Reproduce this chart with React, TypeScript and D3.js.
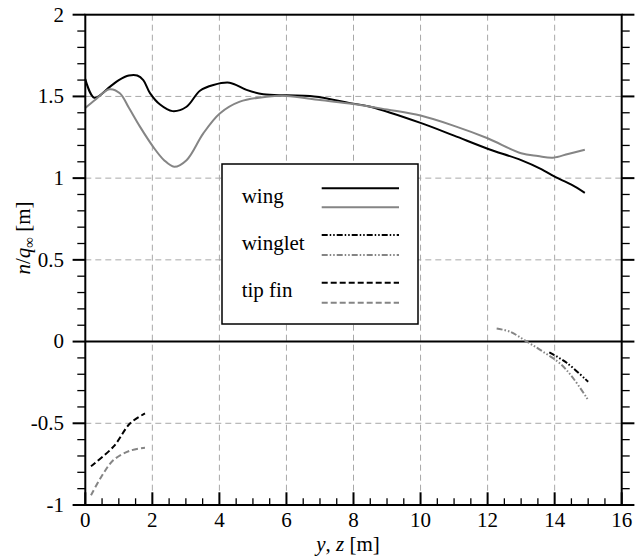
import React from "react";
import * as d3 from "d3";

// ---- data ----
const wingBlackX = [0, 0.27, 0.74, 1.0, 1.3, 1.55, 1.73, 1.93, 2.23, 2.6, 3.02, 3.42, 3.82, 4.3, 4.81, 5.31, 6.0, 6.7, 7.0, 8.0, 8.5, 10.0, 11.0, 12.0, 13.0, 13.6, 14.0, 14.5, 14.9];
const wingBlackY = [1.607, 1.492, 1.56, 1.6, 1.628, 1.628, 1.6, 1.52, 1.45, 1.41, 1.437, 1.535, 1.57, 1.584, 1.54, 1.513, 1.507, 1.503, 1.495, 1.456, 1.437, 1.338, 1.26, 1.18, 1.11, 1.055, 1.009, 0.96, 0.91];
const wingGrayX = [0, 0.3, 0.72, 1.03, 1.3, 1.63, 2.03, 2.35, 2.65, 3.02, 3.52, 4.02, 4.61, 5.41, 6.0, 7.0, 8.0, 9.0, 10.0, 11.0, 12.0, 13.0, 13.5, 13.95, 14.4, 14.9];
const wingGrayY = [1.43, 1.48, 1.544, 1.52, 1.43, 1.315, 1.19, 1.11, 1.07, 1.11, 1.274, 1.397, 1.468, 1.498, 1.503, 1.478, 1.454, 1.42, 1.383, 1.32, 1.244, 1.152, 1.135, 1.125, 1.148, 1.174];
const wingletBlackX = [13.84, 14.36, 15.0];
const wingletBlackY = [-0.066, -0.13, -0.246];
const wingletGrayX = [12.27, 12.67, 13.17, 13.66, 14.16, 14.56, 15.0];
const wingletGrayY = [0.08, 0.06, 0.0, -0.063, -0.134, -0.226, -0.358];
const tipBlackX = [0.17, 0.84, 1.34, 1.78];
const tipBlackY = [-0.763, -0.643, -0.5, -0.44];
const tipGrayX = [0.17, 0.5, 0.84, 1.33, 1.78];
const tipGrayY = [-0.94, -0.82, -0.725, -0.668, -0.65];

const xTicks = [0, 2, 4, 6, 8, 10, 12, 14, 16];
const yTicks = [-1, -0.5, 0, 0.5, 1, 1.5, 2];
const yTickLabels = ["-1", "-0.5", "0", "0.5", "1", "1.5", "2"];
const legendLabels = ["wing", "winglet", "tip fin"];

const W = 635, H = 559;
const L = 85.3, R = 621.7, T = 14.7, B = 505;
const FONT = "'Liberation Serif', 'Times New Roman', Times, 'DejaVu Serif', serif";
const BLACK = "#000";
const GRAY = "#858585";
const WINGLET_DASH = "6,2,1.5,2,1.5,2";
const TIP_DASH = "6,3";

export default function App() {
  const x = d3.scaleLinear().domain([0, 16]).range([L, R]);
  const y = d3.scaleLinear().domain([-1, 2]).range([B, T]);
  const line = d3
    .line<[number, number]>()
    .x((d) => x(d[0]))
    .y((d) => y(d[1]))
    .curve(d3.curveCatmullRom.alpha(0.5));
  const pts = (xs: number[], ys: number[]) => xs.map((v, i) => [v, ys[i]] as [number, number]);

  const xMinor = d3.range(0, 16.01, 0.5).filter((v) => Math.abs(v % 2) > 1e-6);
  const yMinor = d3.range(-1, 2.001, 0.1).filter((v) => Math.abs(Math.round(v * 10) % 5) !== 0);

  const series = [
    { d: pts(wingBlackX, wingBlackY), c: BLACK, dash: undefined },
    { d: pts(wingGrayX, wingGrayY), c: GRAY, dash: undefined },
    { d: pts(wingletBlackX, wingletBlackY), c: BLACK, dash: WINGLET_DASH },
    { d: pts(wingletGrayX, wingletGrayY), c: GRAY, dash: WINGLET_DASH },
    { d: pts(tipBlackX, tipBlackY), c: BLACK, dash: TIP_DASH },
    { d: pts(tipGrayX, tipGrayY), c: GRAY, dash: TIP_DASH },
  ];

  const legX = 222, legY = 164, legW = 196, legH = 160;
  const legRows = [
    { label: legendLabels[0], base: 202.7, l1: 188.3, l2: 207.3, dash: undefined },
    { label: legendLabels[1], base: 250, l1: 235, l2: 255, dash: WINGLET_DASH },
    { label: legendLabels[2], base: 297.3, l1: 282.7, l2: 302.7, dash: TIP_DASH },
  ];

  return (
    <svg width={W} height={H} style={{ position: "absolute", left: 0, top: 0, background: "#fff", fontFamily: FONT }}>
      <rect x={0} y={0} width={W} height={H} fill="#fff" />
      {/* grid */}
      {xTicks.filter((v) => v > 0 && v < 16).map((v) => (
        <line key={"gx" + v} x1={x(v)} x2={x(v)} y1={T} y2={B} stroke="#a8a8a8" strokeWidth={1} strokeDasharray="6,4" />
      ))}
      {yTicks.filter((v) => v !== 0 && v > -1 && v < 2).map((v) => (
        <line key={"gy" + v} x1={L} x2={R} y1={y(v)} y2={y(v)} stroke="#a8a8a8" strokeWidth={1} strokeDasharray="6,4" />
      ))}
      {/* zero line */}
      <line x1={L} x2={R} y1={y(0)} y2={y(0)} stroke="#000" strokeWidth={2} />
      {/* series */}
      {series.map((s, i) => (
        <path key={i} d={line(s.d) || ""} fill="none" stroke={s.c} strokeWidth={2} strokeDasharray={s.dash} />
      ))}
      {/* frame */}
      <rect x={L} y={T} width={R - L} height={B - T} fill="none" stroke="#000" strokeWidth={2} />
      {/* y ticks */}
      {yTicks.map((v) => (
        <g key={"yt" + v}>
          <line x1={L - 12.7} x2={L} y1={y(v)} y2={y(v)} stroke="#000" strokeWidth={2} />
          <line x1={R} x2={R + 12.7} y1={y(v)} y2={y(v)} stroke="#000" strokeWidth={2} />
        </g>
      ))}
      {yMinor.map((v) => (
        <g key={"ym" + v}>
          <line x1={L - 8} x2={L} y1={y(v)} y2={y(v)} stroke="#000" strokeWidth={1.3} />
          <line x1={R} x2={R + 8} y1={y(v)} y2={y(v)} stroke="#000" strokeWidth={1.3} />
        </g>
      ))}
      {/* x ticks */}
      {xTicks.map((v) => (
        <line key={"xt" + v} x1={x(v)} x2={x(v)} y1={B} y2={B - 12.7} stroke="#000" strokeWidth={2} />
      ))}
      {xMinor.map((v) => (
        <line key={"xm" + v} x1={x(v)} x2={x(v)} y1={B} y2={B - 6.7} stroke="#000" strokeWidth={1.3} />
      ))}
      {/* tick labels */}
      {yTicks.map((v, i) => (
        <text key={"yl" + v} x={64} y={y(v)} dy="0.33em" textAnchor="end" fontSize={21} fontFamily={FONT}>
          {yTickLabels[i]}
        </text>
      ))}
      {xTicks.map((v) => (
        <text key={"xl" + v} x={x(v)} y={527} textAnchor="middle" fontSize={21} fontFamily={FONT}>
          {String(v)}
        </text>
      ))}
      {/* axis labels */}
      <text x={348} y={551} textAnchor="middle" fontSize={21} fontFamily={FONT}>
        <tspan fontStyle="italic">y</tspan>
        <tspan>, </tspan>
        <tspan fontStyle="italic">z</tspan>
        <tspan> [m]</tspan>
      </text>
      <text transform="translate(30,238) rotate(-90)" textAnchor="middle" fontSize={21} fontFamily={FONT}>
        <tspan fontStyle="italic">n</tspan>
        <tspan>/</tspan>
        <tspan fontStyle="italic">q</tspan>
        <tspan fontSize={15} dy={4}>∞</tspan>
        <tspan dy={-4}> [m]</tspan>
      </text>
      {/* legend */}
      <rect x={legX} y={legY} width={legW} height={legH} fill="#fff" stroke="#000" strokeWidth={1.5} />
      {legRows.map((r) => (
        <g key={r.label}>
          <text x={241.7} y={r.base} fontSize={21} fontFamily={FONT}>{r.label}</text>
          <line x1={321.7} x2={399} y1={r.l1} y2={r.l1} stroke={BLACK} strokeWidth={2} strokeDasharray={r.dash} />
          <line x1={321.7} x2={399} y1={r.l2} y2={r.l2} stroke={GRAY} strokeWidth={2} strokeDasharray={r.dash} />
        </g>
      ))}
    </svg>
  );
}
